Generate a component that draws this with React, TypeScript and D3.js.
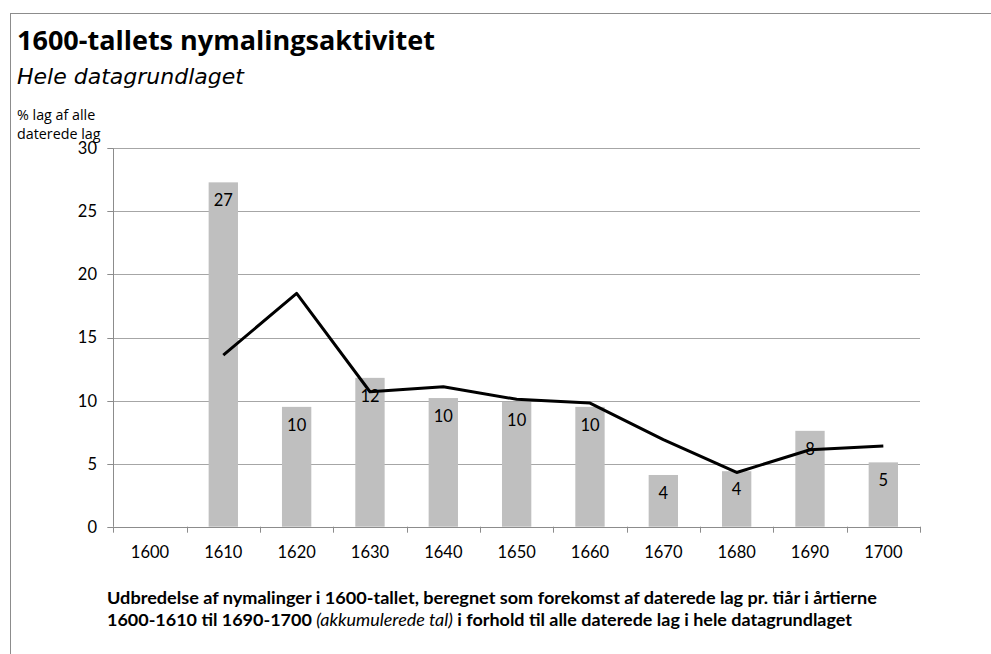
import React from "react";
import * as d3 from "d3";

const categories = ["1600", "1610", "1620", "1630", "1640", "1650", "1660", "1670", "1680", "1690", "1700"];
const barValues: (number | null)[] = [null, 27.3, 9.5, 11.8, 10.2, 9.9, 9.5, 4.1, 4.4, 7.6, 5.1];
const barLabels: (string | null)[] = [null, "27", "10", "12", "10", "10", "10", "4", "4", "8", "5"];
const lineValues: (number | null)[] = [null, 13.6, 18.5, 10.7, 11.1, 10.1, 9.8, 6.9, 4.3, 6.1, 6.4];
const yTicks = [0, 5, 10, 15, 20, 25, 30];

const W = 991, H = 654;
const left = 113.3, right = 920, top = 148.3, bottom = 526.7;
const FONT = "Lato, 'Open Sans', sans-serif";
const TFONT = "'Open Sans', sans-serif";

export default function App() {
  const x = d3.scaleBand<string>().domain(categories).range([left, right]).paddingInner(0).paddingOuter(0);
  const y = d3.scaleLinear().domain([0, 30]).range([bottom, top]);
  const bw = x.bandwidth() * 0.4;

  const line = d3
    .line<number | null>()
    .defined((d) => d !== null)
    .x((_, i) => (x(categories[i]) as number) + x.bandwidth() / 2)
    .y((d) => y(d as number));

  const boundaries = categories.map((c) => x(c) as number).concat([right]);

  return (
    <svg width={W} height={H} style={{ position: "absolute", left: 0, top: 0, background: "#fff" }} fontFamily={FONT}>
      <rect x={0} y={0} width={W} height={H} fill="#fff" />
      {/* border */}
      <line x1={10} x2={W} y1={13.5} y2={13.5} stroke="#8c8c8c" strokeWidth={1} />
      <line x1={10.5} x2={10.5} y1={13} y2={H} stroke="#8c8c8c" strokeWidth={1} />

      {/* titles */}
      <text x={17} y={49.5} fontFamily={TFONT} fontSize={27} fontWeight="bold" fill="#000">1600-tallets nymalingsaktivitet</text>
      <text x={17} y={83.5} fontFamily="'DejaVu Sans', sans-serif" fontSize={22} fontStyle="italic" fill="#000">Hele datagrundlaget</text>
      <text x={17} y={120} fontFamily={TFONT} fontSize={14.3} fill="#000">% lag af alle</text>
      <text x={17} y={139} fontFamily={TFONT} fontSize={14.3} fill="#000">daterede lag</text>

      {/* gridlines */}
      {yTicks.filter((t) => t > 0).map((t) => (
        <line key={t} x1={left} x2={right} y1={Math.round(y(t)) + 0.5} y2={Math.round(y(t)) + 0.5} stroke="#a6a6a6" strokeWidth={1} />
      ))}
      {/* y axis */}
      <line x1={Math.round(left) + 0.5} x2={Math.round(left) + 0.5} y1={top} y2={bottom} stroke="#8c8c8c" />
      {yTicks.map((t) => (
        <g key={t}>
          <line x1={left - 6} x2={left} y1={Math.round(y(t)) + 0.5} y2={Math.round(y(t)) + 0.5} stroke="#8c8c8c" />
          <text x={97} y={y(t)} dy="0.36em" textAnchor="end" fontSize={16.5} fill="#000">{t}</text>
        </g>
      ))}

      {/* bars */}
      {barValues.map((v, i) =>
        v === null ? null : (
          <rect
            key={i}
            x={(x(categories[i]) as number) + (x.bandwidth() - bw) / 2}
            y={y(v)}
            width={bw}
            height={bottom - y(v)}
            fill="#bfbfbf"
          />
        )
      )}

      {/* x axis */}
      <line x1={left} x2={right} y1={Math.round(bottom) + 0.5} y2={Math.round(bottom) + 0.5} stroke="#8c8c8c" />
      {boundaries.map((b, i) => (
        <line key={i} x1={Math.round(b) + 0.5} x2={Math.round(b) + 0.5} y1={bottom} y2={bottom + 6} stroke="#8c8c8c" />
      ))}
      {categories.map((c) => (
        <text key={c} x={(x(c) as number) + x.bandwidth() / 2} y={558} textAnchor="middle" fontSize={16.5} fill="#000">{c}</text>
      ))}

      {/* bar labels */}
      {barValues.map((v, i) =>
        v === null ? null : (
          <text key={i} x={(x(categories[i]) as number) + x.bandwidth() / 2} y={y(v) + 18} dy="0.36em" textAnchor="middle" fontSize={16.5} fill="#000">
            {barLabels[i]}
          </text>
        )
      )}

      {/* line */}
      <path d={line(lineValues) || ""} fill="none" stroke="#000" strokeWidth={3} strokeLinejoin="round" />

      {/* caption */}
      <text x={107} y={604} fontSize={17} fontWeight="bold" fill="#000" textLength={770} lengthAdjust="spacingAndGlyphs">
        Udbredelse af nymalinger i 1600-tallet, beregnet som forekomst af  daterede lag pr. tiår i årtierne
      </text>
      <text x={107} y={626} fontSize={17} fill="#000" textLength={745} lengthAdjust="spacingAndGlyphs">
        <tspan fontWeight="bold">1600-1610 til 1690-1700 </tspan>
        <tspan fontStyle="italic" fontWeight="normal">(akkumulerede tal)</tspan>
        <tspan fontWeight="bold"> i forhold til alle daterede lag i hele datagrundlaget</tspan>
      </text>
    </svg>
  );
}
